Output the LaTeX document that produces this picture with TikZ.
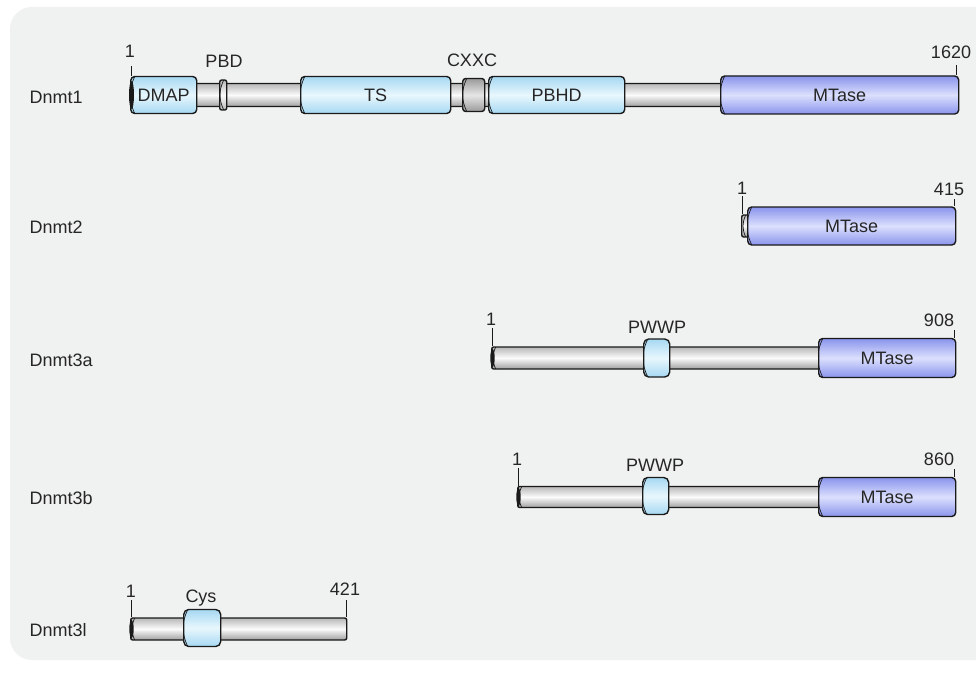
\documentclass[tikz,border=0pt]{standalone}
\usepackage{fontspec}
\setmainfont{Liberation Sans}
\definecolor{bgc}{HTML}{F0F1F1}
\definecolor{tubeE}{HTML}{B8B8B8}
\definecolor{tubeB}{HTML}{A0A0A0}
\definecolor{tubeM}{HTML}{FBFBFB}
\definecolor{domE}{HTML}{A6D8F2}
\definecolor{domM}{HTML}{E8F7FD}
\definecolor{mtE}{HTML}{8A94EC}
\definecolor{mtM}{HTML}{DCE0FD}
\definecolor{cxE}{HTML}{9A9A9A}
\definecolor{cxM}{HTML}{E6E6E6}
\definecolor{edge}{HTML}{1A1A1A}
\begin{document}
\begin{tikzpicture}[x=1pt,y=-1pt,
  every node/.style={font=\fontsize{18}{21}\selectfont, text=black!85},
  cylbase/.style={draw=edge, line width=1.4pt, inner sep=0pt, anchor=west,
    path picture={\draw[edge, line width=0.7pt]
      ([xshift=4pt]path picture bounding box.north west) to[bend right=25]
      ([xshift=4pt]path picture bounding box.south west);}},
  tube/.style={cylbase, top color=tubeE, bottom color=tubeB, middle color=tubeM, rounded corners=2pt, minimum height=23pt},
  dom/.style={cylbase, top color=domE, bottom color=domE, middle color=domM, rounded corners=4pt, minimum height=37pt},
  mtase/.style={cylbase, top color=mtE, bottom color=mtE, middle color=mtM, rounded corners=4pt, minimum height=38pt},
  ring/.style={cylbase, top color=tubeE, bottom color=tubeE, middle color=tubeM, rounded corners=2pt, minimum height=30pt, minimum width=7pt},
  cxxc/.style={cylbase, top color=cxE, bottom color=cxE, middle color=cxM, rounded corners=3pt, minimum height=33pt},
  tick/.style={draw=edge, line width=0.9pt},
  lab/.style={anchor=west},
  num/.style={inner sep=0pt}
]
\useasboundingbox (0,0) rectangle (976,687);
\fill[white] (0,0) rectangle (976,687);
\begin{scope}
  \clip (0,0) rectangle (976,687);
  \fill[bgc, rounded corners=22pt] (10,7) rectangle (1010,660);
\end{scope}

% ---------- Dnmt1 ----------
\node[lab] (l1) at (26,97) {Dnmt1};
\node[tube, minimum width=592pt] (t1) at (130,95) {};
\node[dom, minimum width=66pt] (dmap) at (130,95) {DMAP};
\node[ring] (pbd) at (219,95) {};
\node[dom, minimum width=150pt] (ts) at (300,95) {TS};
\node[cxxc, minimum width=22pt] (cxxc) at (462,95) {};
\node[dom, minimum width=136pt] (pbhd) at (488,95) {PBHD};
\node[mtase, minimum width=238pt] (mt1) at (720,95) {MTase};
\fill[edge] (131.5,95) ellipse (2.5pt and 14pt);
\node[num] (n1a) at (130,51) {1};
\node[num] (pbdl) at (224,61) {PBD};
\node[num] (cxl) at (472,60) {CXXC};
\node[num] (n1b) at (951,52) {1620};
\coordinate (k1a) at (131,66);
\coordinate (k1b) at (956,65);
\draw[tick] (k1a) -- (dmap.north west -| k1a);
\draw[tick] (k1b) -- (mt1.north east -| k1b);

% ---------- Dnmt2 ----------
\node[lab] (l2) at (26,227) {Dnmt2};
\node[tube, minimum width=10pt, minimum height=22pt, rounded corners=2pt] (t2) at (741,226) {};
\node[mtase, minimum width=208pt] (mt2) at (747,226) {MTase};
\node[num] (n2a) at (742,188) {1};
\node[num] (n2b) at (949,189) {415};
\coordinate (k2a) at (742,196);
\coordinate (k2b) at (954,199);
\draw[tick] (k2a) -- (t2.north west -| k2a);
\draw[tick] (k2b) -- (mt2.north east -| k2b);

% ---------- Dnmt3a ----------
\node[lab] (l3) at (26,360) {Dnmt3a};
\node[tube, minimum width=330pt, minimum height=22pt] (t3) at (491,358) {};
\node[dom, minimum width=26pt, minimum height=38pt, rounded corners=5pt] (pw3) at (643,358) {};
\node[mtase, minimum width=137pt, minimum height=39pt] (mt3) at (818,358) {MTase};
\fill[edge] (492.5,358) ellipse (2.2pt and 9pt);
\node[num] (n3a) at (491,319) {1};
\node[num] (pw3l) at (657,327) {PWWP};
\node[num] (n3b) at (939,320) {908};
\coordinate (k3a) at (492,328);
\coordinate (k3b) at (954,330);
\draw[tick] (k3a) -- (t3.north west -| k3a);
\draw[tick] (k3b) -- (mt3.north east -| k3b);

% ---------- Dnmt3b ----------
\node[lab] (l4) at (26,498) {Dnmt3b};
\node[tube, minimum width=304pt, minimum height=21pt] (t4) at (517,497) {};
\node[dom, minimum width=26pt, minimum height=37pt, rounded corners=5pt] (pw4) at (642,496) {};
\node[mtase, minimum width=137pt, minimum height=39pt] (mt4) at (818,497) {MTase};
\fill[edge] (518.5,497) ellipse (2.2pt and 9pt);
\node[num] (n4a) at (517,459) {1};
\node[num] (pw4l) at (655,465) {PWWP};
\node[num] (n4b) at (939,459) {860};
\coordinate (k4a) at (518,468);
\coordinate (k4b) at (954,469);
\draw[tick] (k4a) -- (t4.north west -| k4a);
\draw[tick] (k4b) -- (mt4.north east -| k4b);

% ---------- Dnmt3l ----------
\node[lab] (l5) at (26,630) {Dnmt3l};
\node[tube, minimum width=216pt, minimum height=22pt] (t5) at (130,629) {};
\node[dom, minimum width=37pt, minimum height=37pt, rounded corners=5pt] (cys) at (183,628) {};
\fill[edge] (131.5,629) ellipse (2.2pt and 9pt);
\node[num] (n5a) at (131,591) {1};
\node[num] (cysl) at (201,598) {Cys};
\node[num] (n5b) at (345,589) {421};
\coordinate (k5a) at (131,600);
\coordinate (k5b) at (346,600);
\draw[tick] (k5a) -- (t5.north west -| k5a);
\draw[tick] (k5b) -- (t5.north east -| k5b);
\end{tikzpicture}
\end{document}
